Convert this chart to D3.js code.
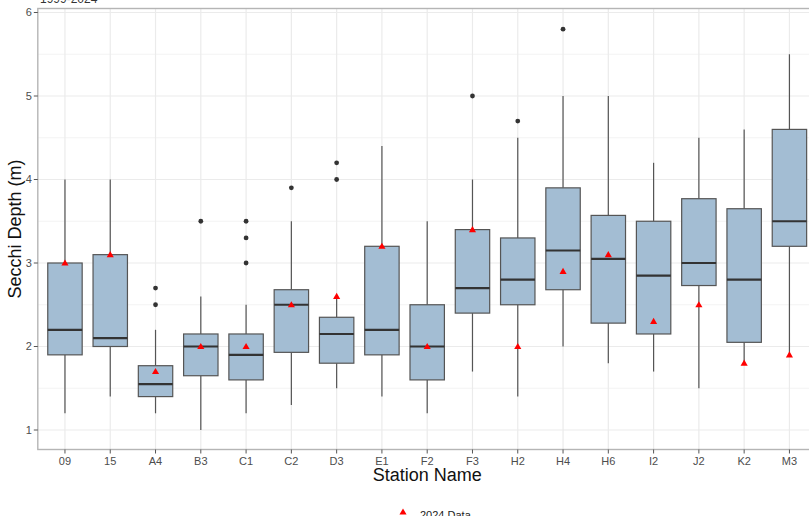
<!DOCTYPE html>
<html><head><meta charset="utf-8">
<script src="https://cdn.jsdelivr.net/npm/d3@7"></script>
<style>body{margin:0;background:#fff}svg{display:block}</style>
</head><body>
<script>
const stations = ["09","15","A4","B3","C1","C2","D3","E1","F2","F3","H2","H4","H6","I2","J2","K2","M3"];
const whiskerLow  = [1.2,1.4,1.2,1.0,1.2,1.3,1.5,1.4,1.2,1.7,1.4,2.0,1.8,1.7,1.5,1.8,1.9];
const q1          = [1.9,2.0,1.4,1.65,1.6,1.93,1.8,1.9,1.6,2.4,2.5,2.68,2.28,2.15,2.73,2.05,3.2];
const medians     = [2.2,2.1,1.55,2.0,1.9,2.5,2.15,2.2,2.0,2.7,2.8,3.15,3.05,2.85,3.0,2.8,3.5];
const q3          = [3.0,3.1,1.77,2.15,2.15,2.68,2.35,3.2,2.5,3.4,3.3,3.9,3.57,3.5,3.77,3.65,4.6];
const whiskerHigh = [4.0,4.0,2.2,2.6,2.5,3.5,2.6,4.4,3.5,4.0,4.5,5.0,5.0,4.2,4.5,4.6,5.5];
const outliers    = [[],[],[2.5,2.7],[3.5],[3.0,3.3,3.5],[3.9],[4.0,4.2],[],[],[5.0],[4.7],[5.8],[],[],[],[],[]];
const data2024    = [3.0,3.1,1.7,2.0,2.0,2.5,2.6,3.2,2.0,3.4,2.0,2.9,3.1,2.3,2.5,1.8,1.9];
const yTicks = [1,2,3,4,5,6];
const yMinor = [1.5,2.5,3.5,4.5,5.5];

const W = 809, H = 516;
const L = 37.8, R = 816.6, T = 8.5, B = 449.5;
const svg = d3.select("body").append("svg").attr("width", W).attr("height", H)
  .style("font-family", "Liberation Sans, Arial, sans-serif");

const x = d3.scaleBand().domain(stations).range([L, R]).paddingOuter(0.6).paddingInner(0);
// ggplot-like: compute with continuous position for discrete
const step = (R - L) / (stations.length - 1 + 1.2);
const xc = s => L + step * (0.6 + stations.indexOf(s));
const y = d3.scaleLinear().domain([1 - 0.0, 6]).range([430, 12.5]);

// grid
const g = svg.append("g");
g.selectAll(".ymin").data(yMinor).join("line")
  .attr("x1", L).attr("x2", R).attr("y1", d => y(d)).attr("y2", d => y(d))
  .attr("stroke", "#f3f3f3").attr("stroke-width", 1);
g.selectAll(".ymaj").data(yTicks).join("line")
  .attr("x1", L).attr("x2", R).attr("y1", d => y(d)).attr("y2", d => y(d))
  .attr("stroke", "#ebebeb").attr("stroke-width", 1.2);
g.selectAll(".xmaj").data(stations).join("line")
  .attr("x1", d => xc(d)).attr("x2", d => xc(d)).attr("y1", T).attr("y2", B)
  .attr("stroke", "#ebebeb").attr("stroke-width", 1.2);

// boxes
const bw = step * 0.76;
const bx = svg.append("g");
stations.forEach((s, i) => {
  const cx = xc(s);
  bx.append("line").attr("x1", cx).attr("x2", cx).attr("y1", y(whiskerHigh[i])).attr("y2", y(q3[i]))
    .attr("stroke", "#555").attr("stroke-width", 1.2);
  bx.append("line").attr("x1", cx).attr("x2", cx).attr("y1", y(q1[i])).attr("y2", y(whiskerLow[i]))
    .attr("stroke", "#555").attr("stroke-width", 1.2);
  bx.append("rect").attr("x", cx - bw/2).attr("width", bw)
    .attr("y", y(q3[i])).attr("height", y(q1[i]) - y(q3[i]))
    .attr("fill", "#a3bdd3").attr("stroke", "#555").attr("stroke-width", 1.2);
  bx.append("line").attr("x1", cx - bw/2).attr("x2", cx + bw/2).attr("y1", y(medians[i])).attr("y2", y(medians[i]))
    .attr("stroke", "#333").attr("stroke-width", 2.2);
  outliers[i].forEach(o => {
    bx.append("circle").attr("cx", cx).attr("cy", y(o)).attr("r", 2.4).attr("fill", "#333");
  });
});
// 2024 triangles
const tri = d3.symbol().type(d3.symbolTriangle).size(22);
svg.append("g").selectAll("path").data(stations).join("path")
  .attr("d", tri)
  .attr("transform", (d, i) => `translate(${xc(d)},${y(data2024[i]) + 0.5})`)
  .attr("fill", "#ff0000");

// panel border
svg.append("rect").attr("x", L).attr("y", T).attr("width", R - L).attr("height", B - T)
  .attr("fill", "none").attr("stroke", "#b5b5b5").attr("stroke-width", 1.4);

// y axis
const ya = svg.append("g");
yTicks.forEach(t => {
  ya.append("line").attr("x1", L - 4).attr("x2", L).attr("y1", y(t)).attr("y2", y(t))
    .attr("stroke", "#555").attr("stroke-width", 1);
  ya.append("text").attr("x", L - 6).attr("y", y(t)).attr("dy", "0.35em")
    .attr("text-anchor", "end").attr("font-size", 11).attr("fill", "#4d4d4d").text(t);
});
// x axis
const xa = svg.append("g");
stations.forEach(s => {
  xa.append("line").attr("x1", xc(s)).attr("x2", xc(s)).attr("y1", B).attr("y2", B + 4)
    .attr("stroke", "#555").attr("stroke-width", 1);
  xa.append("text").attr("x", xc(s)).attr("y", B + 15).attr("text-anchor", "middle")
    .attr("font-size", 11).attr("fill", "#4d4d4d").text(s);
});

// titles
svg.append("text").attr("x", (L + R) / 2).attr("y", 481).attr("text-anchor", "middle")
  .attr("font-size", 18).attr("fill", "#111").text("Station Name");
svg.append("text").attr("transform", `translate(21,${(T + B) / 2}) rotate(-90)`)
  .attr("text-anchor", "middle").attr("font-size", 18).attr("fill", "#111").text("Secchi Depth (m)");
svg.append("text").attr("x", 40).attr("y", 3).attr("font-size", 12).attr("fill", "#333").text("1999-2024");

// legend
svg.append("path").attr("d", tri).attr("transform", "translate(403,512.5)").attr("fill", "#ff0000");
svg.append("text").attr("x", 420).attr("y", 519).attr("font-size", 11).attr("fill", "#222").text("2024 Data");
</script>
</body></html>
